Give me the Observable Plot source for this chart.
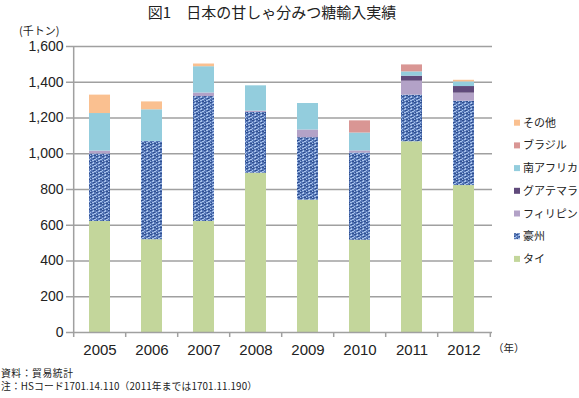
<!DOCTYPE html>
<html><head><meta charset="utf-8">
<script src="https://cdn.jsdelivr.net/npm/d3@7"></script>
<script src="https://cdn.jsdelivr.net/npm/@observablehq/plot@0.6"></script>
<style>
body{margin:0;background:#fff}
#wrap{position:relative;width:579px;height:398px;overflow:hidden;background:#fff}
#wrap svg{position:absolute;left:0;top:0}
</style></head><body><div id="wrap"></div>
<script>
// ---- data (千トン) ----
const years = ["2005","2006","2007","2008","2009","2010","2011","2012"];
const series = ["タイ","豪州","フィリピン","グアテマラ","南アフリカ","ブラジル","その他"];
const thai        = [621, 519, 621, 891, 740, 516, 1067, 822];
const australia   = [378, 550, 699, 340, 350, 488, 261, 472];
const philippines = [16, 0, 20, 7, 43, 12, 78, 45];
const guatemala   = [0, 0, 0, 0, 0, 0, 28, 37];
const southAfrica = [210, 177, 147, 142, 148, 100, 24, 26];
const brazil      = [0, 0, 0, 0, 0, 68, 39, 0];
const others      = [103, 44, 15, 0, 0, 0, 0, 9];
const yTicks = [0, 200, 400, 600, 800, 1000, 1200, 1400, 1600];
const titleText = "図1　日本の甘しゃ分みつ糖輸入実績";
const unitText = "(千トン)";
const yearUnit = "（年）";
const notes = ["資料：貿易統計", "注：HSコード1701.14.110（2011年までは1701.11.190）"];

const colors = ["#c3d69b","url(#aus)","#b3a2c7","#604a7b","#93cddd","#d99694","#fac090"];
const values = [thai, australia, philippines, guatemala, southAfrica, brazil, others];
const data = [];
series.forEach((s, i) => values[i].forEach((v, j) => data.push({year: years[j], country: s, value: v})));

const W = 579, H = 398, mL = 71, mR = 87, mT = 46, mB = 66;
const step = (W - mL - mR) / years.length;
const grid = "#a0a0a0";
const pxPerUnit = (H - mT - mB) / 1600;
const tickLen = 5 / pxPerUnit;

const chart = Plot.plot({
  width: W, height: H,
  marginLeft: mL, marginRight: mR, marginTop: mT, marginBottom: mB,
  style: {fontFamily: "'Liberation Sans', Arial, sans-serif", background: "transparent", color: "#222"},
  x: {domain: years, paddingInner: 0.6, paddingOuter: 0.3, label: null},
  y: {domain: [0, 1600], label: null},
  color: {domain: series, range: colors},
  marks: [
    Plot.gridY(yTicks.filter(t => t > 0), {stroke: grid, strokeOpacity: 1, strokeWidth: 1.5}),
    Plot.barY(data, {x: "year", y: "value", fill: "country"}),
    Plot.ruleY([0], {stroke: grid, strokeWidth: 1.5}),
    Plot.ruleX([years[0]], {x: d => d, dx: -step / 2, y1: -tickLen, y2: 1600, stroke: grid, strokeWidth: 1.5}),
    Plot.ruleX(years.slice(1), {x: d => d, dx: -step / 2, y1: -tickLen, y2: 0, stroke: grid, strokeWidth: 1.5}),
    Plot.ruleX([years[years.length - 1]], {x: d => d, dx: step / 2, y1: -tickLen, y2: 0, stroke: grid, strokeWidth: 1.5}),
    Plot.axisY({ticks: yTicks, tickSize: 5, tickPadding: 3, tickFormat: d3.format(","), fontSize: 14, stroke: grid, strokeWidth: 1.5, fill: "#222"}),
    Plot.axisX({tickSize: 0, tickPadding: 12, fontSize: 15, fill: "#222"})
  ]
});

// texture pattern for 豪州
const defs = d3.select(chart).insert("defs", ":first-child");
const pat = defs.append("pattern").attr("id", "aus").attr("patternUnits", "userSpaceOnUse")
  .attr("width", 6).attr("height", 6);
pat.append("rect").attr("width", 6).attr("height", 6).attr("fill", "#5778b8");
const darkR = [[0,0,2,1],[3,2,2,1],[1,4,1,1],[4,5,2,1]];
const lightR = [[2,1,2,1],[0,2,1,1],[5,3,1,1],[2,4,2,1],[0,5,1,1],[3,0,1,1],[4,3,1,1]];
darkR.forEach(r => pat.append("rect").attr("x", r[0]).attr("y", r[1]).attr("width", r[2]).attr("height", r[3]).attr("fill", "#2f4f8f"));
lightR.forEach(r => pat.append("rect").attr("x", r[0]).attr("y", r[1]).attr("width", r[2]).attr("height", r[3]).attr("fill", "#a8c2ea"));

const wrap = document.getElementById("wrap");
wrap.appendChild(chart);

// overlay texts & legend
const jp = "'Noto Sans CJK JP', 'Noto Sans', sans-serif";
const ov = d3.select(wrap).append("svg").attr("width", W).attr("height", H)
  .style("pointer-events", "none");
ov.append("text").attr("x", 272).attr("y", 18).attr("text-anchor", "middle")
  .attr("font-family", jp).attr("font-size", 15).attr("fill", "#222").text(titleText);
ov.append("text").attr("x", 19).attr("y", 35)
  .attr("font-family", jp).attr("font-size", 11).attr("fill", "#222").text(unitText);
ov.append("text").attr("x", 493).attr("y", 352)
  .attr("font-family", jp).attr("font-size", 10.5).attr("fill", "#222").text(yearUnit);
const noteLens = [72, 256];
notes.forEach((t, i) => ov.append("text").attr("x", 1).attr("y", 376.5 + i * 13.5)
  .attr("font-family", jp).attr("font-size", 9.8).attr("fill", "#222")
  .attr("textLength", noteLens[i]).attr("lengthAdjust", "spacing").text(t));

const legTop = 122.7, legGap = 22.7;
series.slice().reverse().forEach((s, i) => {
  const k = series.length - 1 - i;
  const cy = legTop + i * legGap;
  ov.append("rect").attr("x", 514).attr("y", cy - 3).attr("width", 6).attr("height", 6).attr("fill", colors[k]);
  ov.append("text").attr("x", 523).attr("y", cy + 4).attr("font-family", jp).attr("font-size", 11)
    .attr("fill", "#222").text(s);
});
</script></body></html>
